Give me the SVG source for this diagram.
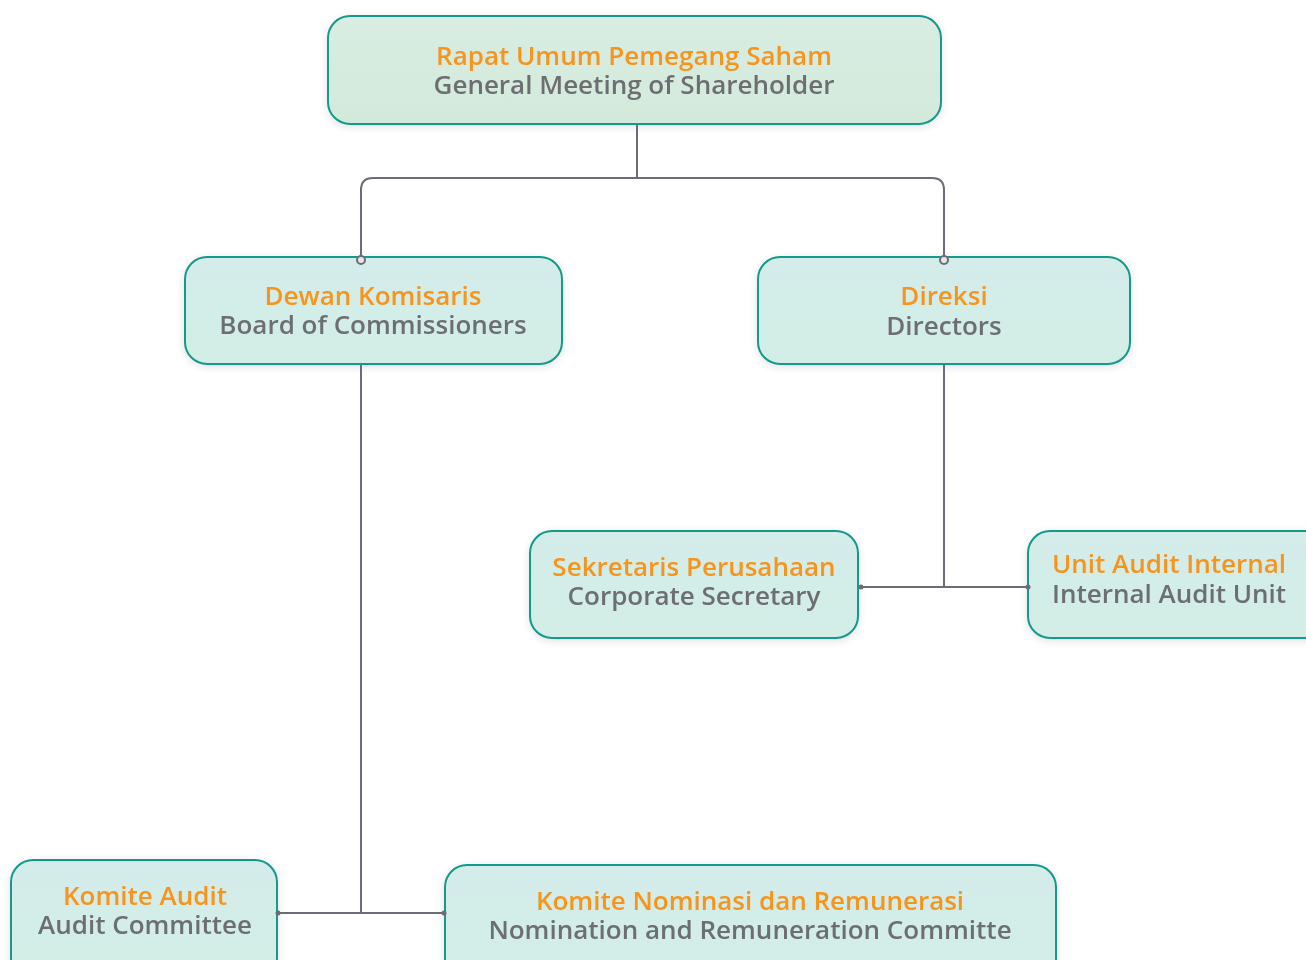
<svg xmlns="http://www.w3.org/2000/svg" width="1306" height="960" viewBox="0 0 1306 960">
<defs>
<linearGradient id="gTop" x1="0" y1="0" x2="0" y2="1">
<stop offset="0" stop-color="#d9ede2"/><stop offset="1" stop-color="#d3eadb"/>
</linearGradient>
<linearGradient id="gNode" x1="0" y1="0" x2="0" y2="1">
<stop offset="0" stop-color="#d4ecea"/><stop offset="1" stop-color="#d2eee6"/>
</linearGradient>
<filter id="sh" x="-10%" y="-20%" width="120%" height="140%">
<feGaussianBlur in="SourceAlpha" stdDeviation="4"/>
<feOffset dx="0" dy="2"/>
<feComponentTransfer><feFuncA type="linear" slope="0.12"/></feComponentTransfer>
<feMerge><feMergeNode/><feMergeNode in="SourceGraphic"/></feMerge>
</filter>
</defs>
<style>
.box{fill:url(#gNode);stroke:#13998a;stroke-width:2}
.top{fill:url(#gTop)}
.t1{font-family:"Open Sans","Noto Sans",sans-serif;font-weight:600;font-size:26px;fill:#f7941d;text-anchor:middle}
.t2{font-family:"Open Sans","Noto Sans",sans-serif;font-weight:600;font-size:26px;fill:#6d6e71;text-anchor:middle}
.ln{fill:none;stroke:#6e6a76;stroke-width:2}
.dot{fill:#dfe9e8;stroke:#6e6a76;stroke-width:2}
.sdot{fill:#6e6a76}
</style>
<rect width="1306" height="960" fill="#ffffff"/>
<g id="rups" filter="url(#sh)">
<rect class="box top" x="328" y="16" width="613" height="108" rx="22"/>
<text class="t1" x="634" y="65">Rapat Umum Pemegang Saham</text>
<text class="t2" x="634" y="94">General Meeting of Shareholder</text>
</g>
<g id="dewan" filter="url(#sh)">
<rect class="box" x="185" y="257" width="377" height="107" rx="22"/>
<text class="t1" x="373" y="305">Dewan Komisaris</text>
<text class="t2" x="373" y="334">Board of Commissioners</text>
</g>
<g id="direksi" filter="url(#sh)">
<rect class="box" x="758" y="257" width="372" height="107" rx="22"/>
<text class="t1" x="944" y="305">Direksi</text>
<text class="t2" x="944" y="335">Directors</text>
</g>
<g id="sekretaris" filter="url(#sh)">
<rect class="box" x="530" y="531" width="328" height="107" rx="22"/>
<text class="t1" x="694" y="576">Sekretaris Perusahaan</text>
<text class="t2" x="694" y="605">Corporate Secretary</text>
</g>
<g id="sai" filter="url(#sh)">
<rect class="box" x="1028" y="531" width="300" height="107" rx="22"/>
<text class="t1" x="1169" y="573">Unit Audit Internal</text>
<text class="t2" x="1169" y="603">Internal Audit Unit</text>
</g>
<g id="komite-audit" filter="url(#sh)">
<rect class="box" x="11" y="860" width="266" height="120" rx="22"/>
<text class="t1" x="145" y="905">Komite Audit</text>
<text class="t2" x="145" y="934">Audit Committee</text>
</g>
<g id="komite-nominasi" filter="url(#sh)">
<rect class="box" x="445" y="865" width="611" height="120" rx="22"/>
<text class="t1" x="750" y="910">Komite Nominasi dan Remunerasi</text>
<text class="t2" x="750" y="939">Nomination and Remuneration Committe</text>
</g>
<g id="connectors">
<path class="ln" d="M637 125 V178 M361 256 V190 Q361 178 373 178 H932 Q944 178 944 190 V256"/>
<circle class="dot" cx="361" cy="260" r="4"/>
<circle class="dot" cx="944" cy="260" r="4"/>
<path class="ln" d="M361 365 V913 M278 913 H444"/>
<circle class="sdot" cx="278" cy="913" r="2.5"/>
<circle class="sdot" cx="444" cy="913" r="2.5"/>
<path class="ln" d="M944 365 V587 M861 587 H1028"/>
<circle class="sdot" cx="861" cy="587" r="2.5"/>
<circle class="sdot" cx="1028" cy="587" r="2.5"/>
</g>
</svg>
